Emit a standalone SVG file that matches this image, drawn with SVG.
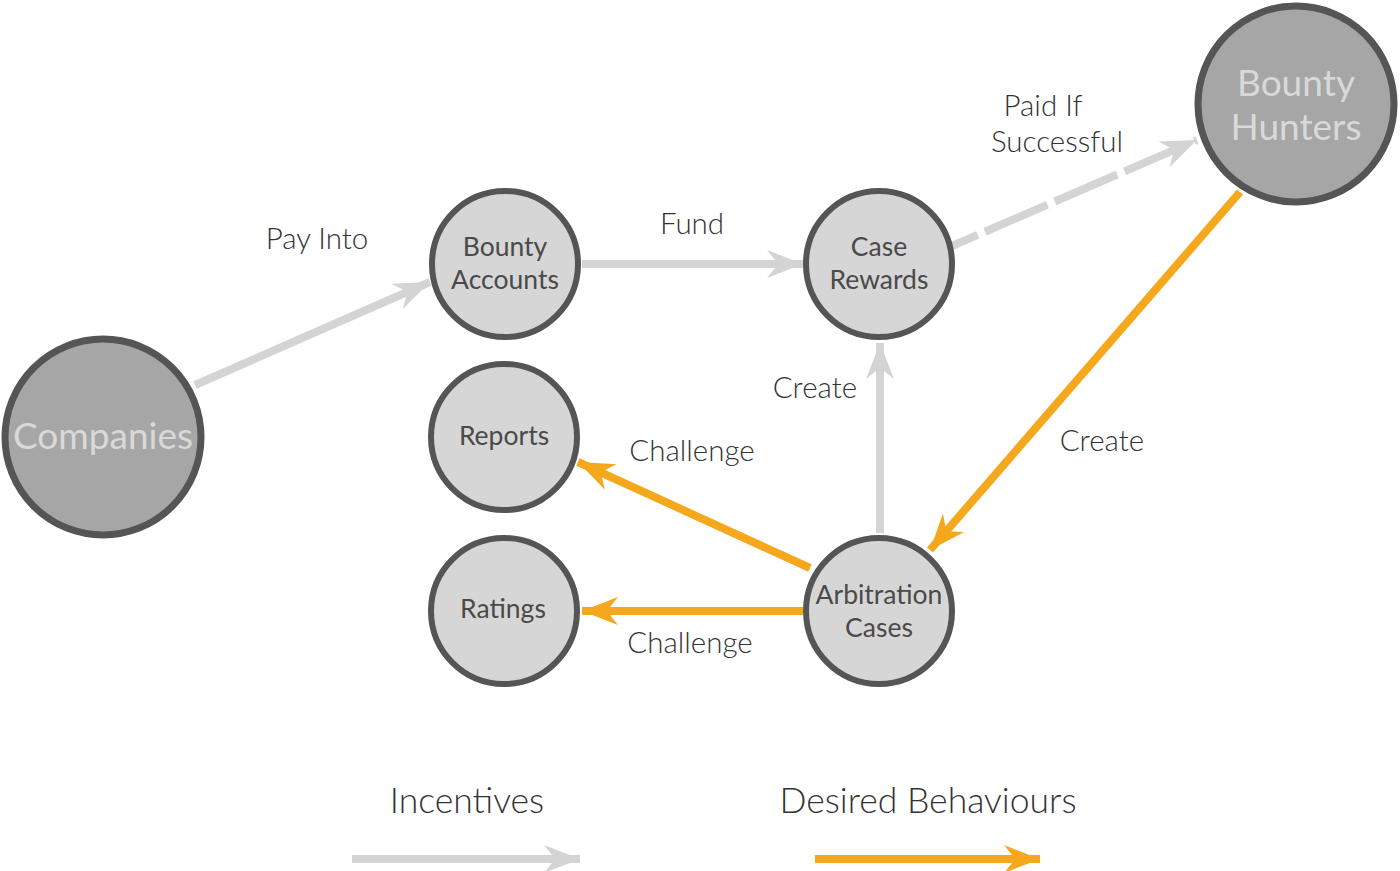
<svg xmlns="http://www.w3.org/2000/svg" width="1400" height="871" viewBox="0 0 1400 871">
<style>
.big{fill:#a6a6a6;stroke:#555;stroke-width:7}
.sm{fill:#d6d6d6;stroke:#555;stroke-width:6}
.bt{font-family:Lato,"Noto Sans","Liberation Sans",sans-serif;font-size:37px;fill:#d9d9d9;text-anchor:middle;dominant-baseline:central}
.nt{font-family:Lato,"Noto Sans","Liberation Sans",sans-serif;font-size:26.5px;fill:#4a4a4a;text-anchor:middle;dominant-baseline:central}
.lb{font-family:Lato,"Noto Sans","Liberation Sans",sans-serif;font-weight:300;font-size:29.5px;fill:#333;text-anchor:middle;dominant-baseline:central}
.lg{font-family:Lato,"Noto Sans","Liberation Sans",sans-serif;font-weight:300;font-size:35.5px;fill:#333;text-anchor:middle;dominant-baseline:central}
.g{stroke:#d4d4d4;stroke-width:8;fill:none;marker-end:url(#ag)}
.o{stroke:#f5a81c;stroke-width:8;fill:none;marker-end:url(#ao)}
</style>
<defs>
<marker id="ag" markerUnits="userSpaceOnUse" viewBox="-38 -15 39 30" refX="0" refY="0" markerWidth="39" markerHeight="30" orient="auto" overflow="visible">
<path d="M0,0 L-36,-14 L-28,-4 L-28,4 L-36,14 Z" fill="#d4d4d4"/>
</marker>
<marker id="ao" markerUnits="userSpaceOnUse" viewBox="-38 -15 39 30" refX="0" refY="0" markerWidth="39" markerHeight="30" orient="auto" overflow="visible">
<path d="M0,0 L-36,-14 L-28,-4 L-28,4 L-36,14 Z" fill="#f5a81c"/>
</marker>
</defs>
<g id="connectors">
<line class="g" x1="195" y1="385" x2="430" y2="282"/>
<line class="g" x1="582" y1="264" x2="803" y2="264"/>
<line class="g" x1="880" y1="533" x2="880" y2="343"/>
<line class="g" x1="952" y1="246" x2="1197" y2="140" stroke-dasharray="28 8 68 8 68 8 68 8 200"/>
<line class="o" x1="1240" y1="192" x2="930" y2="550"/>
<line class="o" x1="810" y1="568" x2="578" y2="462"/>
<line class="o" x1="803" y1="611" x2="582" y2="611"/>
<line class="g" x1="352" y1="859" x2="580" y2="859"/>
<line class="o" x1="815" y1="859" x2="1040" y2="859"/>
</g>
<g id="labels">
<text class="lb" x="317" y="237">Pay Into</text>
<text class="lb" x="692" y="222">Fund</text>
<text class="lb" x="1043" y="104">Paid If</text>
<text class="lb" x="1057" y="140">Successful</text>
<text class="lb" x="815" y="386">Create</text>
<text class="lb" x="1102" y="439">Create</text>
<text class="lb" x="692" y="449">Challenge</text>
<text class="lb" x="690" y="641">Challenge</text>
<text class="lg" x="467" y="799">Incentives</text>
<text class="lg" x="928" y="799">Desired Behaviours</text>
</g>
<g id="companies"><circle class="big" cx="103" cy="437" r="98"/><text class="bt" x="103" y="434">Companies</text></g>
<g id="bounty-hunters"><circle class="big" cx="1296" cy="104" r="98"/><text class="bt" x="1296" y="81">Bounty</text><text class="bt" x="1296" y="125">Hunters</text></g>
<g id="bounty-accounts"><circle class="sm" cx="505" cy="264" r="73"/><text class="nt" x="505" y="246">Bounty</text><text class="nt" x="505" y="279">Accounts</text></g>
<g id="case-rewards"><circle class="sm" cx="879" cy="264" r="73"/><text class="nt" x="879" y="246">Case</text><text class="nt" x="879" y="279">Rewards</text></g>
<g id="reports"><circle class="sm" cx="504" cy="437" r="73"/><text class="nt" x="504" y="435">Reports</text></g>
<g id="ratings"><circle class="sm" cx="504" cy="611" r="73"/><text class="nt" x="503" y="608">Ratings</text></g>
<g id="arbitration-cases"><circle class="sm" cx="879" cy="611" r="73"/><text class="nt" x="879" y="594">Arbitration</text><text class="nt" x="879" y="627">Cases</text></g>
</svg>
